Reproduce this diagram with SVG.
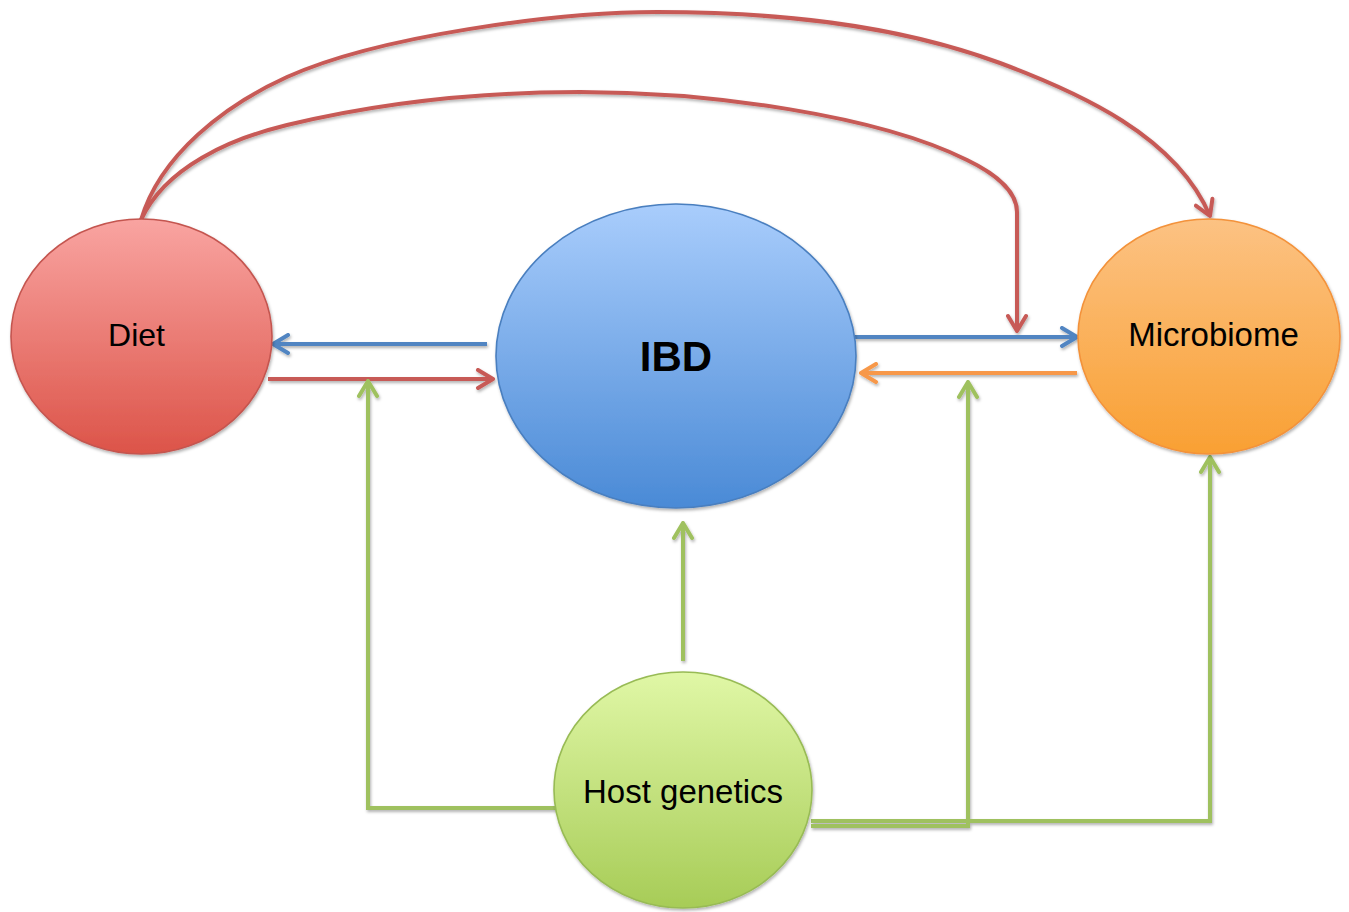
<svg xmlns="http://www.w3.org/2000/svg" width="1349" height="912" viewBox="0 0 1349 912">
<style>
  .lbl { font-family: "Liberation Sans", Arial, sans-serif; fill: #000; text-anchor: middle; }
  .con { fill: none; stroke-width: 4; stroke-linecap: butt; stroke-linejoin: miter; }
  .red { stroke: #c75a57; }
  .blue { stroke: #5185c2; }
  .orange { stroke: #f7984a; }
  .green { stroke: #9fc15f; }
  .node { stroke-width: 1.6; }
</style>
<defs>
  <linearGradient id="gDiet" x1="0" y1="0" x2="0" y2="1">
    <stop offset="0" stop-color="#f9a4a1"/>
    <stop offset="1" stop-color="#dc5449"/>
  </linearGradient>
  <linearGradient id="gIBD" x1="0" y1="0" x2="0" y2="1">
    <stop offset="0" stop-color="#a9cdfc"/>
    <stop offset="1" stop-color="#4a8ad6"/>
  </linearGradient>
  <linearGradient id="gMic" x1="0" y1="0" x2="0" y2="1">
    <stop offset="0" stop-color="#fcc283"/>
    <stop offset="1" stop-color="#f9a033"/>
  </linearGradient>
  <linearGradient id="gHost" x1="0" y1="0" x2="0" y2="1">
    <stop offset="0" stop-color="#e0f7a6"/>
    <stop offset="1" stop-color="#a7cc57"/>
  </linearGradient>
  <filter id="sh" x="-10%" y="-10%" width="130%" height="130%">
    <feDropShadow dx="1" dy="2" stdDeviation="1.5" flood-color="#000" flood-opacity="0.3"/>
  </filter>
  <marker id="aRed" markerUnits="userSpaceOnUse" viewBox="0 0 20 22" markerWidth="20" markerHeight="22" refX="18" refY="11" orient="auto">
    <path d="M3,2 L18,11 L3,20" fill="none" stroke="#c75a57" stroke-width="4" stroke-linecap="round" stroke-linejoin="round"/>
  </marker>
  <marker id="aBlue" markerUnits="userSpaceOnUse" viewBox="0 0 20 22" markerWidth="20" markerHeight="22" refX="18" refY="11" orient="auto">
    <path d="M3,2 L18,11 L3,20" fill="none" stroke="#5185c2" stroke-width="4" stroke-linecap="round" stroke-linejoin="round"/>
  </marker>
  <marker id="aOrange" markerUnits="userSpaceOnUse" viewBox="0 0 20 22" markerWidth="20" markerHeight="22" refX="18" refY="11" orient="auto">
    <path d="M3,2 L18,11 L3,20" fill="none" stroke="#f7984a" stroke-width="4" stroke-linecap="round" stroke-linejoin="round"/>
  </marker>
  <marker id="aGreen" markerUnits="userSpaceOnUse" viewBox="0 0 20 22" markerWidth="20" markerHeight="22" refX="18" refY="11" orient="auto">
    <path d="M3,2 L18,11 L3,20" fill="none" stroke="#9fc15f" stroke-width="4" stroke-linecap="round" stroke-linejoin="round"/>
  </marker>
</defs>
<rect width="1349" height="912" fill="#ffffff"/>

<g id="connectors" filter="url(#sh)">
  <!-- Diet -> Microbiome (outer arc) -->
  <path class="con red" d="M141,220 C160,155 225,105 287,77 C378,36 557,12 657,12 C772,12 892,23 1000,63 C1080,93 1176,136 1210,216" marker-end="url(#aRed)"/>
  <!-- Diet -> IBD->Microbiome link (inner arc) -->
  <path class="con red" d="M141,220 C165,167 231,138.5 287,125 C382,102 482,92 580,92 C710,92 877,115 967,160 C992,172 1017,190 1017,212 L1017,331" marker-end="url(#aRed)"/>
  <!-- IBD -> Diet -->
  <path class="con blue" d="M487,344 L273,344" marker-end="url(#aBlue)"/>
  <!-- Diet -> IBD -->
  <path class="con red" d="M268,379 L493,379" marker-end="url(#aRed)"/>
  <!-- IBD -> Microbiome -->
  <path class="con blue" d="M855,337 L1077,337" marker-end="url(#aBlue)"/>
  <!-- Microbiome -> IBD -->
  <path class="con orange" d="M1077,373 L861,373" marker-end="url(#aOrange)"/>
  <!-- Host genetics -> Diet/IBD link -->
  <path class="con green" d="M556,808 L368,808 L368,381" marker-end="url(#aGreen)"/>
  <!-- Host genetics -> IBD -->
  <path class="con green" d="M683,661 L683,523" marker-end="url(#aGreen)"/>
  <!-- Host genetics -> Microbiome/IBD link -->
  <path class="con green" d="M811,826 L968,826 L968,382" marker-end="url(#aGreen)"/>
  <!-- Host genetics -> Microbiome -->
  <path class="con green" d="M811,821 L1210,821 L1210,457" marker-end="url(#aGreen)"/>
</g>

<g id="node-diet">
  <ellipse class="node" cx="141.5" cy="336.5" rx="130.5" ry="117.5" fill="url(#gDiet)" stroke="#c4554f" filter="url(#sh)"/>
  <text class="lbl" x="136.5" y="346" font-size="32">Diet</text>
</g>

<g id="node-ibd">
  <ellipse class="node" cx="676" cy="356" rx="180" ry="152" fill="url(#gIBD)" stroke="#4a7fbf" filter="url(#sh)"/>
  <text class="lbl" x="676" y="371" font-size="42" font-weight="bold">IBD</text>
</g>

<g id="node-microbiome">
  <ellipse class="node" cx="1209" cy="336.5" rx="131" ry="117.5" fill="url(#gMic)" stroke="#f3923a" filter="url(#sh)"/>
  <text class="lbl" x="1213.5" y="346" font-size="33">Microbiome</text>
</g>

<g id="node-host-genetics">
  <ellipse class="node" cx="683" cy="790" rx="129" ry="118" fill="url(#gHost)" stroke="#98bb55" filter="url(#sh)"/>
  <text class="lbl" x="683" y="803" font-size="33">Host genetics</text>
</g>
</svg>
